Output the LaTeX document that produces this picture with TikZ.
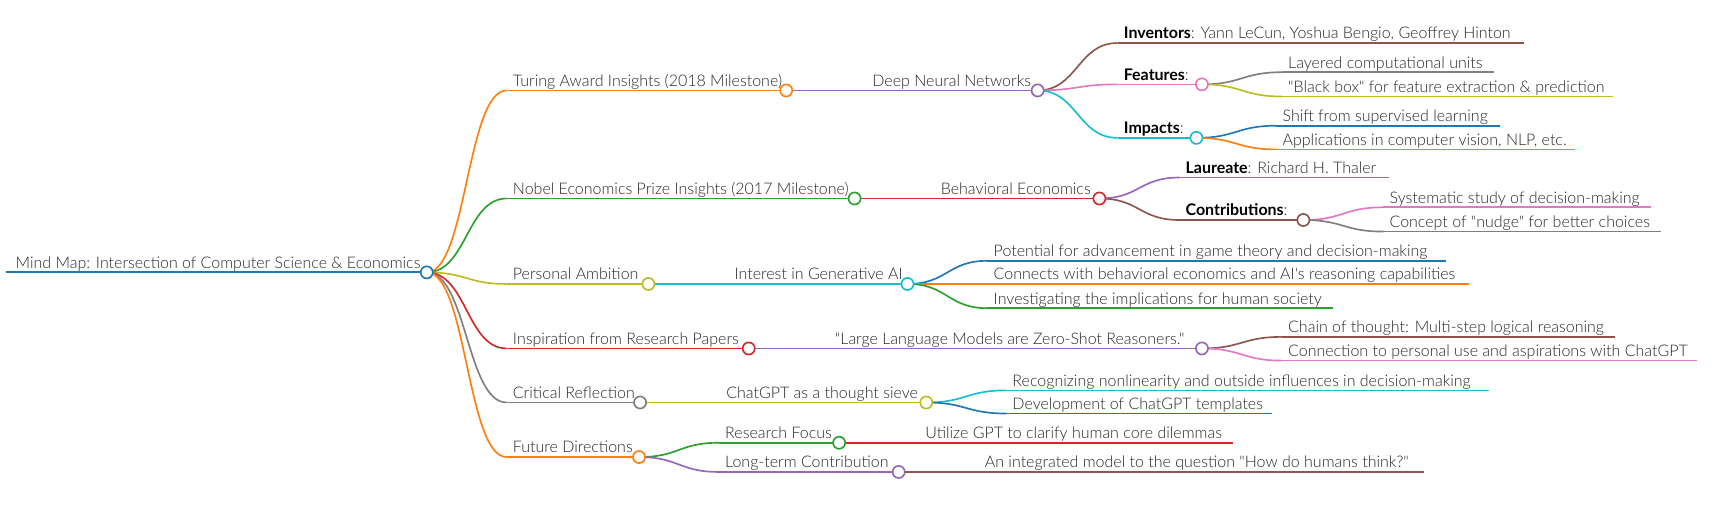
\documentclass[tikz,border=0pt]{standalone}
\usepackage{fontspec}
\setmainfont{Lato}
\IfFontExistsTF{Lato Light}{\newfontfamily\lite{Lato Light}}{\newfontfamily\lite{Lato}}
\usetikzlibrary{calc,backgrounds}
\definecolor{mBlue}{HTML}{1F77B4}
\definecolor{mOrange}{HTML}{FF7F0E}
\definecolor{mGreen}{HTML}{2CA02C}
\definecolor{mRed}{HTML}{D62728}
\definecolor{mPurple}{HTML}{9467BD}
\definecolor{mBrown}{HTML}{8C564B}
\definecolor{mPink}{HTML}{E377C2}
\definecolor{mGray}{HTML}{7F7F7F}
\definecolor{mOlive}{HTML}{BCBD22}
\definecolor{mCyan}{HTML}{17BECF}
\definecolor{txtc}{HTML}{262626}
\newcommand\kw[1]{{\normalfont\bfseries\color{black}#1}}
% #1 name, #2 parent, #3 colour, #4 x start, #5 x end, #6 y, #7 text
\newcommand\branch[7]{%
  \coordinate (#1-s) at (#4,-#6);
  \coordinate (#1-e) at (#5,-#6);
  \node[lbl] (#1-t) at ([xshift=5.5pt,yshift=3.7pt]#1-s) {#7};
  \begin{pgfonlayer}{background}
    \draw[ln,#3] (#1-s) -- (#1-e);
    \draw[ln,#3] let \p1=(#2-e), \p2=(#1-s), \n1={(\x2-\x1)/2} in
      (\p1) .. controls +(\n1,0) and +(-\n1,0) .. (\p2);
  \end{pgfonlayer}}
\newcommand\knob[2]{\node[dot,draw=#2] (#1-c) at (#1-e) {};}
\begin{document}
\begin{tikzpicture}[x=1pt,y=1pt,
  lbl/.style={anchor=base west,inner sep=0pt,text=txtc,font=\lite\fontsize{14.5}{17}\selectfont},
  ln/.style={line width=1.5pt},
  dot/.style={circle,fill=white,line width=1.5pt,minimum size=11pt,inner sep=0pt}]
\useasboundingbox (0,0) rectangle (1568,-467);
% root
\coordinate (root-s) at (5,-247);
\coordinate (root-e) at (387,-247);
\node[lbl] (root-t) at (14,-243.3) {Mind Map: Intersection of Computer Science \& Economics};
\begin{pgfonlayer}{background}
  \draw[mBlue,line width=2pt] (root-s) -- (root-e);
\end{pgfonlayer}
\knob{root}{mBlue}
% Turing
\branch{turing}{root}{mOrange}{459.5}{713}{82}{Turing Award Insights (2018 Milestone)}
\knob{turing}{mOrange}
\branch{dnn}{turing}{mPurple}{785.5}{941}{82}{Deep Neural Networks}
\knob{dnn}{mPurple}
\branch{inventors}{dnn}{mBrown}{1013.5}{1382}{39}{\kw{Inventors}: Yann LeCun, Yoshua Bengio, Geoffrey Hinton}
\branch{features}{dnn}{mPink}{1013.5}{1090}{76.5}{\kw{Features}:}
\knob{features}{mPink}
\branch{layered}{features}{mGray}{1162.5}{1355}{65.5}{Layered computational units}
\branch{blackbox}{features}{mOlive}{1162.5}{1463}{87.5}{"Black box" for feature extraction \& prediction}
\branch{impacts}{dnn}{mCyan}{1013.5}{1085}{125}{\kw{Impacts}:}
\knob{impacts}{mCyan}
\branch{shift}{impacts}{mBlue}{1157.5}{1360}{114}{Shift from supervised learning}
\branch{applications}{impacts}{mOrange}{1157.5}{1428}{135.5}{Applications in computer vision, NLP, etc.}
% Nobel
\branch{nobel}{root}{mGreen}{459.5}{775}{180}{Nobel Economics Prize Insights (2017 Milestone)}
\knob{nobel}{mGreen}
\branch{behav}{nobel}{mRed}{847.5}{997}{180}{Behavioral Economics}
\knob{behav}{mRed}
\branch{laureate}{behav}{mPurple}{1069.5}{1260}{161}{\kw{Laureate}: Richard H. Thaler}
\branch{contrib}{behav}{mBrown}{1069.5}{1182}{199.5}{\kw{Contributions}:}
\knob{contrib}{mBrown}
\branch{systematic}{contrib}{mPink}{1254.5}{1497}{188}{Systematic study of decision-making}
\branch{nudge}{contrib}{mGray}{1254.5}{1506}{210}{Concept of "nudge" for better choices}
% Personal ambition
\branch{personal}{root}{mOlive}{459.5}{588}{257.5}{Personal Ambition}
\knob{personal}{mOlive}
\branch{interest}{personal}{mCyan}{660.5}{823}{257.5}{Interest in Generative AI}
\knob{interest}{mCyan}
\branch{potential}{interest}{mBlue}{895.5}{1311}{236.5}{Potential for advancement in game theory and decision-making}
\branch{connects}{interest}{mOrange}{895.5}{1332}{257.5}{Connects with behavioral economics and AI's reasoning capabilities}
\branch{investigating}{interest}{mGreen}{895.5}{1209}{279.5}{Investigating the implications for human society}
% Inspiration
\branch{inspiration}{root}{mRed}{459.5}{679}{316}{Inspiration from Research Papers}
\knob{inspiration}{mRed}
\branch{llm}{inspiration}{mPurple}{751.5}{1090}{316}{"Large Language Models are Zero-Shot Reasoners."}
\knob{llm}{mPurple}
\branch{chain}{llm}{mBrown}{1162.5}{1465}{305.5}{Chain of thought: Multi-step logical reasoning}
\branch{connection}{llm}{mPink}{1162.5}{1539}{327}{Connection to personal use and aspirations with ChatGPT}
% Critical reflection
\branch{critical}{root}{mGray}{459.5}{580.5}{365}{Critical Reflection}
\knob{critical}{mGray}
\branch{sieve}{critical}{mOlive}{653}{840}{365}{ChatGPT as a thought sieve}
\knob{sieve}{mOlive}
\branch{recognizing}{sieve}{mCyan}{912.5}{1350}{354}{Recognizing nonlinearity and outside influences in decision-making}
\branch{development}{sieve}{mBlue}{912.5}{1153.5}{375}{Development of ChatGPT templates}
% Future directions
\branch{future}{root}{mOrange}{459.5}{579.5}{414.5}{Future Directions}
\knob{future}{mOrange}
\branch{research}{future}{mGreen}{652}{761}{401.5}{Research Focus}
\knob{research}{mGreen}
\branch{utilize}{research}{mRed}{833.5}{1118}{401.5}{Utilize GPT to clarify human core dilemmas}
\branch{longterm}{future}{mPurple}{652}{815}{428}{Long-term Contribution}
\knob{longterm}{mPurple}
\branch{integrated}{longterm}{mBrown}{887.5}{1291}{428}{An integrated model to the question "How do humans think?"}
\end{tikzpicture}
\end{document}
